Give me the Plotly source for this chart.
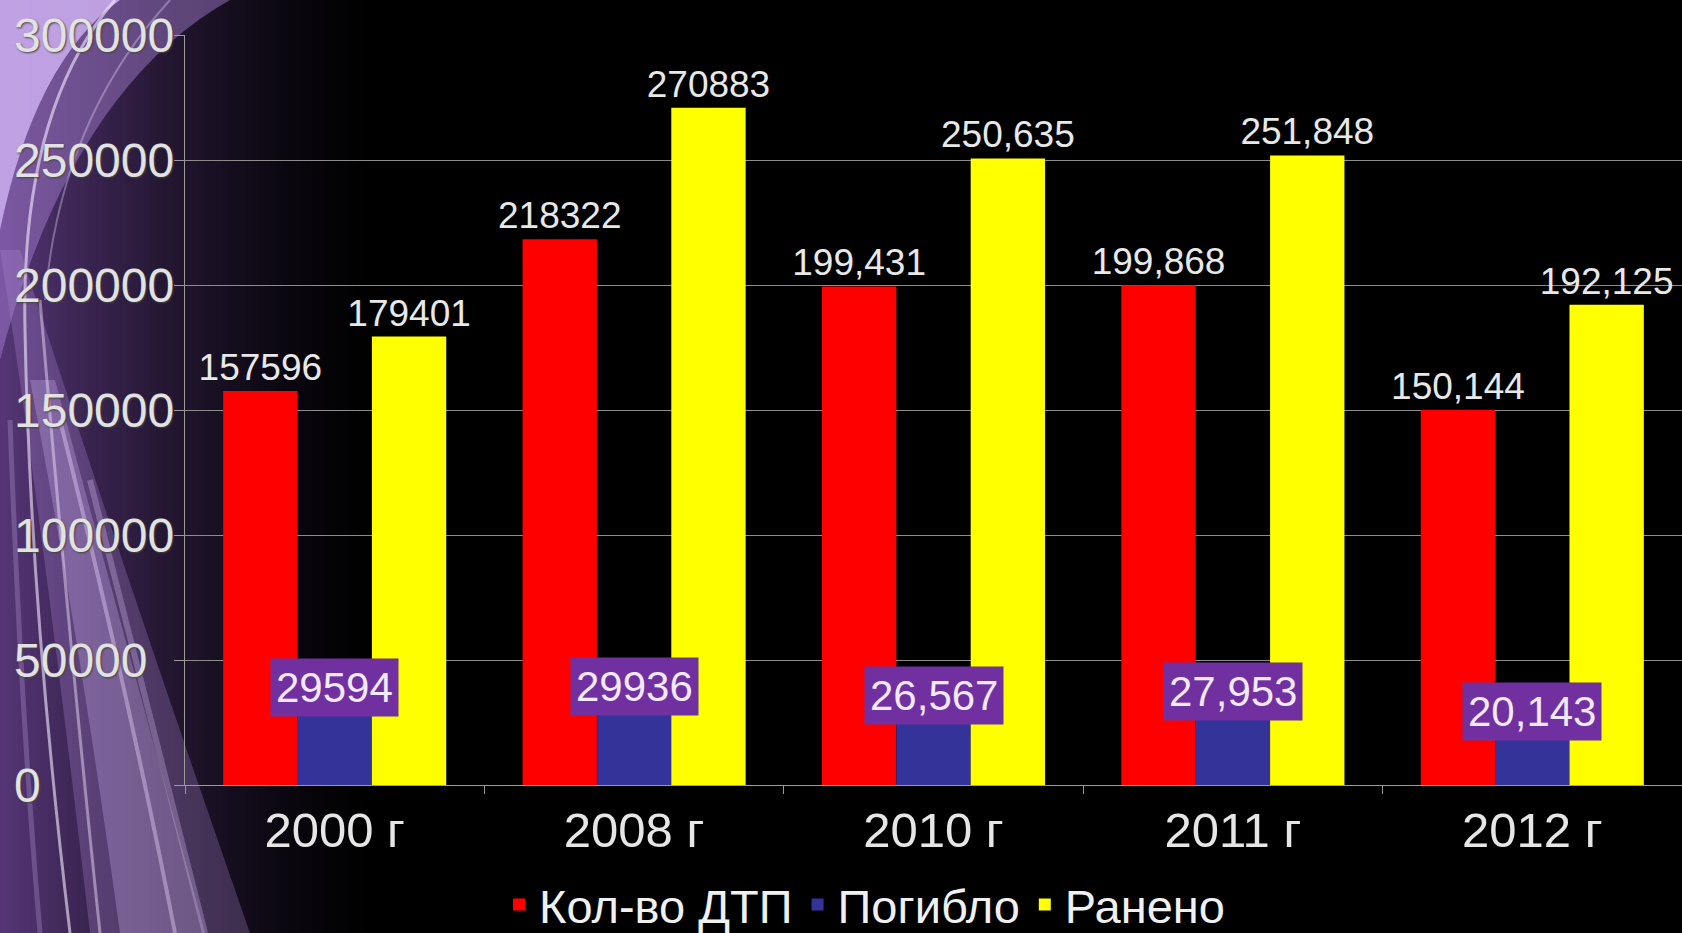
import plotly.graph_objects as go

# ---- data ----
years = ["2000 г", "2008 г", "2010 г", "2011 г", "2012 г"]
accidents = [157596, 218322, 199431, 199868, 150144]
killed = [29594, 29936, 26567, 27953, 20143]
injured = [179401, 270883, 250635, 251848, 192125]
accident_labels = ["157596", "218322", "199,431", "199,868", "150,144"]
killed_labels = ["29594", "29936", "26,567", "27,953", "20,143"]
injured_labels = ["179401", "270883", "250,635", "251,848", "192,125"]
y_ticks = [0, 50000, 100000, 150000, 200000, 250000, 300000]
series_names = ["Кол-во ДТП", "Погибло", "Ранено"]

W, H = 1682, 933
ML, MR, MT, MB = 185, 0, 35, 148
PW, PH = W - ML - MR, H - MT - MB
FONT = "Liberation Sans, Arial, sans-serif"


def P(px, py):
    return f"{(px - ML) / PW:.5f},{(H - MB - py) / PH:.5f}"


fig = go.Figure()
fig.add_trace(go.Bar(name=series_names[0], x=years, y=accidents, marker_color="#ff0000",
                     marker_line_width=0, text=accident_labels, textposition="outside",
                     textfont=dict(size=37, color="#e8e8e8", family=FONT),
                     constraintext="none", cliponaxis=False))
fig.add_trace(go.Bar(name=series_names[1], x=years, y=killed, marker_color="#333399",
                     marker_line_width=0))
fig.add_trace(go.Bar(name=series_names[2], x=years, y=injured, marker_color="#ffff00",
                     marker_line_width=0, text=injured_labels, textposition="outside",
                     textfont=dict(size=37, color="#e8e8e8", family=FONT),
                     constraintext="none", cliponaxis=False))

shapes = []
# horizontal purple gradient on the left
step = 6
for px in range(0, 380, step):
    t = px / 380.0
    a = 0.92 * (1 - t) ** 1.5
    shapes.append(dict(type="rect", xref="paper", yref="paper", layer="below",
                       x0=(px - ML) / PW, x1=(px + step - ML) / PW,
                       y0=(H - MB - H) / PH, y1=(H - MB) / PH,
                       fillcolor=f"rgba(92,58,128,{a:.3f})", line_width=0))
# broad light band
shapes.append(dict(type="path", xref="paper", yref="paper", layer="below",
                   path=f"M {P(0,250)} Q {P(40,500)} {P(90,933)} L {P(250,933)} Q {P(120,560)} {P(20,250)} Z",
                   fillcolor="rgba(190,150,235,0.25)", line_width=0))
shapes.append(dict(type="path", xref="paper", yref="paper", layer="below",
                   path=f"M {P(30,380)} Q {P(80,640)} {P(120,933)} L {P(205,933)} Q {P(120,620)} {P(55,380)} Z",
                   fillcolor="rgba(215,185,250,0.28)", line_width=0))
# top-left corner glow
shapes.append(dict(type="path", xref="paper", yref="paper", layer="below",
                   path=f"M {P(0,0)} L {P(230,0)} Q {P(70,90)} {P(0,360)} Z",
                   fillcolor="rgba(170,130,215,0.45)", line_width=0))
shapes.append(dict(type="path", xref="paper", yref="paper", layer="below",
                   path=f"M {P(0,0)} L {P(120,0)} Q {P(35,60)} {P(0,230)} Z",
                   fillcolor="rgba(205,175,240,0.85)", line_width=0))
# bright streak lines
streaks = [
    (f"M {P(115,0)} Q {P(20,110)} {P(25,330)} Q {P(30,600)} {P(70,933)}", "rgba(245,235,255,0.6)", 3),
    (f"M {P(170,0)} Q {P(60,120)} {P(45,300)}", "rgba(235,220,255,0.35)", 2),
    (f"M {P(40,300)} Q {P(70,650)} {P(100,933)}", "rgba(245,230,255,0.45)", 3),
    (f"M {P(60,420)} Q {P(130,700)} {P(175,933)}", "rgba(235,215,255,0.4)", 4),
    (f"M {P(90,480)} Q {P(150,720)} {P(205,933)}", "rgba(220,195,250,0.3)", 6),
    (f"M {P(10,420)} Q {P(20,700)} {P(40,933)}", "rgba(210,185,245,0.25)", 5),
]
for path, col, w in streaks:
    shapes.append(dict(type="path", xref="paper", yref="paper", layer="below",
                       path=path, line=dict(color=col, width=w)))

annotations = []
for v in y_ticks:
    annotations.append(dict(xref="paper", yref="y", x=(12 - ML) / PW, y=v, text=str(v),
                            xanchor="left", yanchor="middle", showarrow=False,
                            font=dict(size=48, color="#e2e2e2", family=FONT,
                                      shadow="1px 1px 2px #444")))
for yr, v, lab in zip(years, killed, killed_labels):
    annotations.append(dict(xref="x", yref="y", x=yr, y=v, text=lab, showarrow=False,
                            xanchor="center", yanchor="bottom", yshift=-6,
                            bgcolor="#7030a0", borderpad=5,
                            font=dict(size=42, color="#f2e8ff", family=FONT)))

fig.update_layout(
    width=W, height=H,
    margin=dict(l=ML, r=MR, t=MT, b=MB, pad=0),
    paper_bgcolor="#000000", plot_bgcolor="rgba(0,0,0,0)",
    barmode="group", bargap=0.255, bargroupgap=0,
    font=dict(family=FONT, color="#e6e6e6"),
    showlegend=True,
    legend=dict(orientation="h", xref="container", yref="container",
                x=0.514, y=0.03, xanchor="center", yanchor="middle",
                font=dict(size=47, color="#f0f0f0", family=FONT),
                bgcolor="rgba(0,0,0,0)", itemwidth=30, traceorder="normal"),
    xaxis=dict(type="category", categoryorder="array", categoryarray=years,
               range=[-0.5, 4.5], showgrid=False, showline=True, linecolor="#9a9a9a",
               linewidth=1, ticks="outside", tickson="boundaries", ticklen=8,
               tickcolor="#9a9a9a", tickfont=dict(size=49, color="#e6e6e6", family=FONT),
               ticklabelstandoff=2),
    yaxis=dict(range=[0, 300000], tickvals=y_ticks, showgrid=True, gridcolor="#8c8c8c",
               gridwidth=1, showline=True, linecolor="#9a9a9a", linewidth=1,
               ticks="outside", ticklen=10, tickcolor="#9a9a9a", showticklabels=False,
               zeroline=False),
    shapes=shapes,
    annotations=annotations,
)

fig.write_html("out.html", config={"displayModeBar": False},
               post_script="document.body.style.margin='0';document.body.style.overflow='hidden';document.body.style.background='#000';")
